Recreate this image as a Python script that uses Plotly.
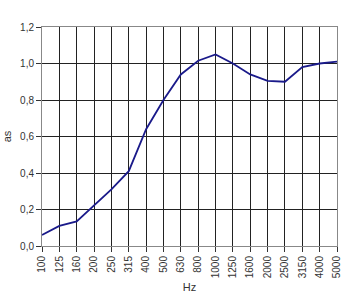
import plotly.graph_objects as go

freqs = ["100", "125", "160", "200", "250", "315", "400", "500", "630", "800",
         "1000", "1250", "1600", "2000", "2500", "3150", "4000", "5000"]
alpha = [0.06, 0.11, 0.135, 0.22, 0.31, 0.41, 0.64, 0.80, 0.94, 1.015,
         1.05, 1.0, 0.94, 0.905, 0.90, 0.98, 1.0, 1.01]

fig = go.Figure()
fig.add_trace(go.Scatter(x=freqs, y=alpha, mode="lines",
                         line=dict(color="#1a1a8a", width=1.8), showlegend=False))

fig.update_layout(
    width=360, height=298,
    margin=dict(l=42, r=23, t=27, b=52),
    plot_bgcolor="white", paper_bgcolor="white",
    separators=", ",
    font=dict(family="Liberation Sans, Arial, sans-serif", size=10, color="#333"),
)
fig.update_xaxes(
    type="category", tickangle=-90, showgrid=True, gridcolor="#222", gridwidth=1,
    showline=True, linecolor="#888", mirror=True, ticks="outside", ticklen=5,
    tickcolor="#333", range=[0, 17], automargin=False,
    title=dict(text="Hz", font=dict(size=11, color="#333"), standoff=6),
)
fig.update_yaxes(
    range=[0, 1.2], dtick=0.2, tickformat=".1f", showgrid=True, gridcolor="#222",
    gridwidth=1, showline=True, linecolor="#888", mirror=True, ticks="outside",
    ticklen=5, tickcolor="#333", zeroline=False, automargin=False,
    title=dict(text="as", font=dict(size=11, color="#333"), standoff=6),
)
fig.write_html("out.html")
